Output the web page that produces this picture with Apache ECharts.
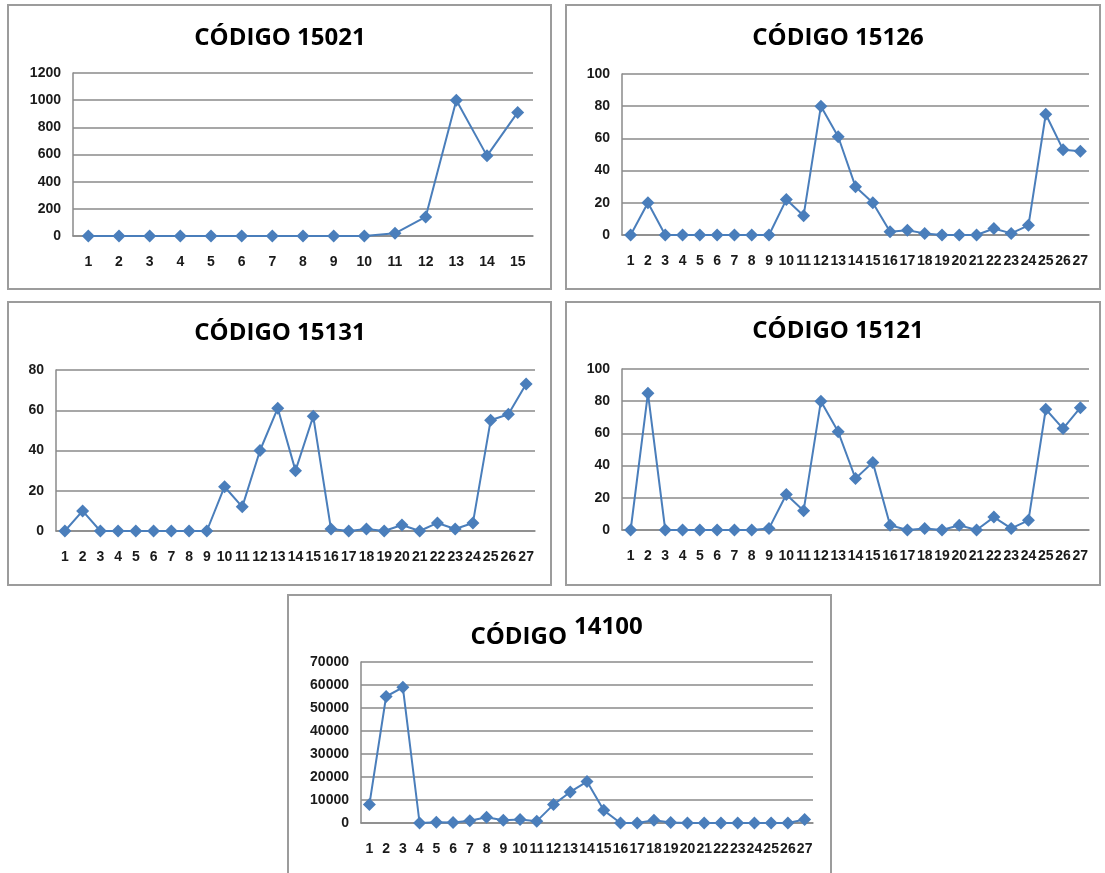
<!DOCTYPE html>
<html>
<head>
<meta charset="utf-8">
<script src="https://cdn.jsdelivr.net/npm/echarts@6/dist/echarts.min.js"></script>
<style>
html,body{margin:0;padding:0;background:#fff;}
#c{width:1105px;height:873px;}
</style>
</head>
<body>
<div id="c"></div>
<script>
// ---- data ----
var cats15 = ['1','2','3','4','5','6','7','8','9','10','11','12','13','14','15'];
var cats27 = ['1','2','3','4','5','6','7','8','9','10','11','12','13','14','15','16','17','18','19','20','21','22','23','24','25','26','27'];

var codigo15021 = [0,0,0,0,0,0,0,0,0,0,20,140,1000,590,910];
var codigo15126 = [0,20,0,0,0,0,0,0,0,22,12,80,61,30,20,2,3,1,0,0,0,4,1,6,75,53,52];
var codigo15131 = [0,10,0,0,0,0,0,0,0,22,12,40,61,30,57,1,0,1,0,3,0,4,1,4,55,58,73];
var codigo15121 = [0,85,0,0,0,0,0,0,1,22,12,80,61,32,42,3,0,1,0,3,0,8,1,6,75,63,76];
var codigo14100 = [8000,55000,59000,0,300,200,1000,2500,1200,1500,800,8000,13500,18000,5500,0,0,1200,200,0,0,0,0,0,0,0,1500];

var titles = ['CÓDIGO 15021','CÓDIGO 15126','CÓDIGO 15131','CÓDIGO 15121'];
var title5a = 'CÓDIGO';
var title5b = '14100';

var yMax = [1200, 100, 80, 100, 70000];
var yStep = [200, 20, 20, 20, 10000];

// ---- layout ----
var panels = [
  {x:8,  y:5,   w:543, h:284, grid:{left:73,  top:73,  width:460, height:163}, tx:280, ty:38},
  {x:566,y:5,   w:534, h:284, grid:{left:622, top:74,  width:467, height:161}, tx:838, ty:38},
  {x:8,  y:302, w:543, h:283, grid:{left:56,  top:370, width:479, height:161}, tx:280, ty:333},
  {x:566,y:302, w:534, h:283, grid:{left:622, top:369, width:467, height:161}, tx:838, ty:331},
  {x:288,y:595, w:543, h:290, grid:{left:361, top:662, width:452, height:161}}
];
var catsList = [cats15, cats27, cats27, cats27, cats27];
var dataList = [codigo15021, codigo15126, codigo15131, codigo15121, codigo14100];

var BLUE = '#4a7ebb';
var GRID = '#8a8a8a';
var titleFont = 'bold 24px "Open Sans", sans-serif';
var labelFont = {fontFamily:'"Liberation Sans", Arial, sans-serif', fontSize:14, fontWeight:'bold', color:'#1a1a1a'};

var grids = [], xAxes = [], yAxes = [], series = [], graphics = [];
panels.forEach(function(p, i){
  graphics.push({type:'rect', shape:{x:p.x, y:p.y, width:p.w, height:p.h},
    style:{fill:'none', stroke:'#9c9c9c', lineWidth:2}, silent:true});
  if (i < 4) {
    graphics.push({type:'text', x:p.tx, y:p.ty,
      style:{text:titles[i], font:titleFont, fill:'#000', textAlign:'center', textVerticalAlign:'middle'}});
  }
  grids.push(p.grid);
  xAxes.push({
    type:'category', gridIndex:i, data:catsList[i], boundaryGap:true,
    axisLine:{show:true, lineStyle:{color:GRID, width:1.5}},
    axisTick:{show:false},
    axisLabel:Object.assign({interval:0, hideOverlap:false, margin:19}, labelFont),
    splitLine:{show:false}
  });
  yAxes.push({
    type:'value', gridIndex:i, min:0, max:yMax[i], interval:yStep[i],
    axisLine:{show:true, lineStyle:{color:GRID, width:1.5}},
    axisTick:{show:false},
    axisLabel:Object.assign({margin:12, formatter:function(v){return String(v);}}, labelFont),
    splitLine:{show:true, lineStyle:{color:GRID, width:1.5}}
  });
  series.push({
    type:'line', xAxisIndex:i, yAxisIndex:i, data:dataList[i],
    symbol:'diamond', symbolSize:13, showAllSymbol:true, clip:false,
    lineStyle:{color:BLUE, width:2},
    itemStyle:{color:BLUE}
  });
});

graphics.push({type:'text', x:567, y:637,
  style:{text:title5a, font:titleFont, fill:'#000', textAlign:'right', textVerticalAlign:'middle'}});
graphics.push({type:'text', x:574, y:627,
  style:{text:title5b, font:titleFont, fill:'#000', textAlign:'left', textVerticalAlign:'middle'}});

var chart = echarts.init(document.getElementById('c'), null, {renderer:'canvas'});
chart.setOption({
  animation:false,
  backgroundColor:'#fff',
  grid:grids, xAxis:xAxes, yAxis:yAxes, series:series,
  graphic:graphics
});
</script>
</body>
</html>
